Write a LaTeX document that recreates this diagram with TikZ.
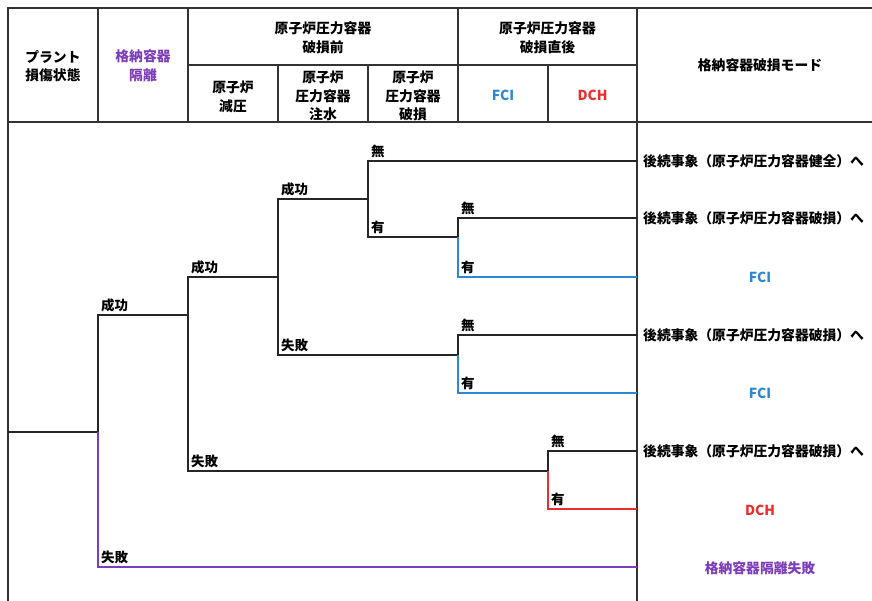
\documentclass[tikz,border=0pt]{standalone}
\usepackage{fontspec}
\setmainfont{Noto Sans CJK JP}
\definecolor{fciblue}{RGB}{45,135,210}
\definecolor{dchred}{RGB}{235,45,45}
\definecolor{isopurple}{RGB}{125,60,185}
\newcommand{\fs}{\fontsize{13.8}{18.5}\selectfont\bfseries}
\begin{document}
\begin{tikzpicture}[x=1pt,y=-1pt,
  every node/.style={font=\fs, inner sep=0pt, align=center},
  grid/.style={line width=1.3pt, draw=black!80},
  tree/.style={line width=1.8pt, draw=black!85, line join=miter},
  lbl/.style={anchor=south west, font=\fontsize{13.5}{15}\selectfont\bfseries},
  endtxt/.style={anchor=west},
  endctr/.style={anchor=center}]
\useasboundingbox (0,0) rectangle (872,601);
% ---- grid ----
\draw[grid] (8,601) -- (8,8) -- (872,8);
\draw[grid] (8,122) -- (872,122);
\draw[grid] (188,65) -- (637,65);
\draw[grid] (98,8) -- (98,122);
\draw[grid] (188,8) -- (188,122);
\draw[grid] (278,65) -- (278,122);
\draw[grid] (368,65) -- (368,122);
\draw[grid] (458,8) -- (458,122);
\draw[grid] (548,65) -- (548,122);
\draw[grid] (637,8) -- (637,601);
% ---- header texts ----
\node (h1) at (53,66) {プラント\\損傷状態};
\node[text=isopurple] (h2) at (143,66) {格納容器\\隔離};
\node (h3) at (323,38) {原子炉圧力容器\\破損前};
\node (h4) at (547.5,38) {原子炉圧力容器\\破損直後};
\node (h5) at (233,97) {原子炉\\減圧};
\node (h6) at (323,96) {原子炉\\圧力容器\\注水};
\node (h7) at (413,96) {原子炉\\圧力容器\\破損};
\node[text=fciblue] (h8) at (503,95) {FCI};
\node[text=dchred] (h9) at (592.5,95) {DCH};
\node (h10) at (760,65) {格納容器破損モード};
% ---- tree coordinates ----
\coordinate (r0) at (8,432);
\coordinate (n1) at (98,432);
\coordinate (a1) at (98,315);
\coordinate (b0) at (188,315);
\coordinate (b1) at (188,277);
\coordinate (b2) at (188,471);
\coordinate (c0) at (278,277);
\coordinate (c1) at (278,199);
\coordinate (c2) at (278,355);
\coordinate (d0) at (368,199);
\coordinate (d1) at (368,161);
\coordinate (d2) at (368,237);
\coordinate (f0) at (458,237);
\coordinate (f1) at (458,218);
\coordinate (f2) at (458,277);
\coordinate (g0) at (458,355);
\coordinate (g1) at (458,335);
\coordinate (g2) at (458,393);
\coordinate (k0) at (548,471);
\coordinate (k1) at (548,451);
\coordinate (k2) at (548,509);
\coordinate (p1) at (98,567);
\coordinate (e1) at (637,161);
\coordinate (e2) at (637,218);
\coordinate (e3) at (637,277);
\coordinate (e4) at (637,335);
\coordinate (e5) at (637,393);
\coordinate (e6) at (637,451);
\coordinate (e7) at (637,509);
\coordinate (e8) at (637,567);
% ---- tree branches ----
\draw[tree] (r0) -- (n1) -- (a1) -- (b0) -- (b1) -- (c0) -- (c1) -- (d0) -- (d1) -- (e1);
\draw[tree] (d0) -- (d2) -- (f0) -- (f1) -- (e2);
\draw[tree, draw=fciblue] (f0) -- (f2) -- (e3);
\draw[tree] (c0) -- (c2) -- (g0) -- (g1) -- (e4);
\draw[tree, draw=fciblue] (g0) -- (g2) -- (e5);
\draw[tree] (b0) -- (b2) -- (k0) -- (k1) -- (e6);
\draw[tree, draw=dchred] (k0) -- (k2) -- (e7);
\draw[tree, draw=isopurple] (n1) -- (p1) -- (e8);
% ---- branch labels ----
\node[lbl] (l1) at (101,312) {成功};
\node[lbl] (l2) at (191,274) {成功};
\node[lbl] (l3) at (281,196) {成功};
\node[lbl] (l4) at (371,158) {無};
\node[lbl] (l5) at (371,234) {有};
\node[lbl] (l6) at (461,215) {無};
\node[lbl] (l7) at (461,274) {有};
\node[lbl] (l8) at (281,352) {失敗};
\node[lbl] (l9) at (461,332) {無};
\node[lbl] (l10) at (461,390) {有};
\node[lbl] (l11) at (191,468) {失敗};
\node[lbl] (l12) at (551,448) {無};
\node[lbl] (l13) at (551,506) {有};
\node[lbl] (l14) at (101,564) {失敗};
% ---- end states ----
\node[endtxt] (m1) at (643,161) {後続事象（原子炉圧力容器健全）へ};
\node[endtxt] (m2) at (643,218) {後続事象（原子炉圧力容器破損）へ};
\node[endctr, text=fciblue] (m3) at (760,277) {FCI};
\node[endtxt] (m4) at (643,335) {後続事象（原子炉圧力容器破損）へ};
\node[endctr, text=fciblue] (m5) at (760,393) {FCI};
\node[endtxt] (m6) at (643,451) {後続事象（原子炉圧力容器破損）へ};
\node[endctr, text=dchred] (m7) at (760,510) {DCH};
\node[endctr, text=isopurple] (m8) at (760,568) {格納容器隔離失敗};
\end{tikzpicture}
\end{document}
